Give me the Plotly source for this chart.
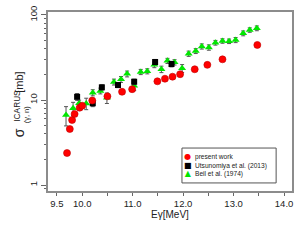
import plotly.graph_objects as go

# present work
pw_E = [9.70, 9.755, 9.80, 9.85, 9.95, 10.0, 10.20, 10.50, 10.79, 10.99,
        11.49, 11.64, 11.79, 11.94, 12.23, 12.48, 12.78, 13.47]
pw_sig = [2.38, 4.56, 5.82, 6.85, 8.12, 8.57, 9.86, 11.06, 12.5, 13.4,
          16.6, 17.8, 18.8, 20.1, 23.0, 25.9, 30.1, 44.4]

# Utsunomiya et al. (2013)
ut_E = [9.90, 10.21, 10.39, 10.71, 11.03, 11.445, 11.77]
ut_sig = [10.9, 9.15, 14.1, 15.0, 16.4, 28.0, 26.5]
ut_err = [1.0, 0.8, 1.0, 1.0, 1.2, 2.0, 2.0]

# Beil et al. (1974)
be_E = [9.68, 9.82, 9.94, 10.08, 10.21, 10.36, 10.49, 10.63, 10.77, 10.89,
        11.03, 11.16, 11.29, 11.43, 11.57, 11.69, 11.83, 11.98, 12.11, 12.25,
        12.37, 12.51, 12.64, 12.78, 12.91, 13.04, 13.19, 13.32, 13.46]
be_sig = [6.66, 7.99, 9.15, 9.10, 12.2, 12.8, 10.6, 16.3, 17.5, 20.3,
          14.7, 21.4, 21.8, 26.0, 23.0, 28.9, 27.8, 23.6, 35.1, 37.7,
          42.7, 41.5, 47.2, 49.5, 49.1, 50.8, 60.9, 66.6, 69.8]
be_err = [1.7, 1.4, 0.8, 1.4, 1.0, 1.0, 1.5, 1.3, 1.4, 1.6,
          1.8, 1.5, 1.5, 2.0, 2.0, 2.0, 2.0, 2.5, 2.5, 2.5,
          3.0, 3.0, 3.0, 3.0, 3.0, 3.5, 4.0, 4.0, 4.5]

x_tickvals = [9.5, 10.0, 11.0, 12.0, 13.0, 14.0]
x_ticktext = ["9.5", "10.0", "11.0", "12.0", "13.0", "14.0"]
x_minorvals = [10.5, 11.5, 12.5, 13.5]
y_tickvals = [1, 10, 100]
y_ticktext = ["1", "10", "100"]

legend_labels = ["present work", "Utsunomiya et al. (2013)", "Beil et al. (1974)"]

RED = "#ff0000"
GREEN = "#00e600"
ERRC = "#555555"

fig = go.Figure()
fig.add_trace(go.Scatter(
    x=be_E, y=be_sig, mode="markers", name=legend_labels[2],
    marker=dict(symbol="triangle-up", size=7, color=GREEN, line=dict(width=0)),
    error_y=dict(type="data", array=be_err, color=ERRC, thickness=1, width=2),
))
fig.add_trace(go.Scatter(
    x=ut_E, y=ut_sig, mode="markers", name=legend_labels[1],
    marker=dict(symbol="square", size=6, color="#000000", line=dict(width=0)),
    error_y=dict(type="data", array=ut_err, color=ERRC, thickness=1, width=2),
))
fig.add_trace(go.Scatter(
    x=pw_E, y=pw_sig, mode="markers", name=legend_labels[0],
    marker=dict(symbol="circle", size=7, color=RED, line=dict(width=0.6, color="#c00000")),
))

FONT = "Liberation Sans, Arial, sans-serif"
AXC = "#8c8c8c"
TXT = "#222222"

fig.update_layout(
    width=300, height=240,
    margin=dict(l=48, r=6, t=12, b=49),
    paper_bgcolor="white", plot_bgcolor="white",
    showlegend=False,
    font=dict(family=FONT, size=9, color=TXT),
    xaxis=dict(
        range=[9.323, 14.157], showgrid=False, zeroline=False,
        showline=True, linecolor=AXC, linewidth=1.5, mirror=True,
        tickmode="array", tickvals=x_tickvals, ticktext=x_ticktext,
        ticks="outside", ticklen=3, tickcolor="#666666", tickwidth=1,
        tickfont=dict(size=9.5, family=FONT, color=TXT),
        minor=dict(tickmode="array", tickvals=x_minorvals, ticks="outside",
                   ticklen=3, tickcolor="#666666"),
        title=dict(text="Eγ[MeV]", font=dict(size=10, family=FONT, color=TXT), standoff=2),
    ),
    yaxis=dict(
        type="log", range=[-0.07, 2.035], showgrid=False, zeroline=False,
        showline=True, linecolor=AXC, linewidth=1.5, mirror=True,
        tickmode="array", tickvals=y_tickvals, ticktext=y_ticktext,
        tickangle=-90,
        ticks="outside", ticklen=5, tickcolor="#666666", tickwidth=1,
        tickfont=dict(size=9.5, family=FONT, color=TXT),
        minor=dict(ticks="outside", ticklen=2, tickcolor="#666666", dtick="D1"),
    ),
)

# y-axis title (stacked sub/superscript)
ann = [
    dict(text="σ", x=-0.118, y=0.324, font=dict(size=14, family=FONT, color=TXT)),
    dict(text="ICARUS", x=-0.126, y=0.478, font=dict(size=8.3, family=FONT, color=TXT)),
    dict(text="(γ, n)", x=-0.087, y=0.427, font=dict(size=7.5, family=FONT, color=TXT)),
    dict(text="[mb]", x=-0.122, y=0.606, font=dict(size=11, family=FONT, color=TXT)),
]
for a in ann:
    fig.add_annotation(xref="paper", yref="paper", showarrow=False, textangle=-90,
                       xanchor="center", yanchor="middle", borderpad=0, **a)

# compact legend box
fig.add_shape(type="rect", xref="paper", yref="paper",
              x0=0.549, x1=0.935, y0=0.045, y1=0.240,
              line=dict(color="#555555", width=1), fillcolor="white", layer="above")
glyph_list = [("●", RED), ("■", "#000000"), ("▲", GREEN)]
glyph_text = "<br>".join(
    f"<span style='color:{c};font-size:8px'>{g}</span>" for g, c in glyph_list)
fig.add_annotation(xref="paper", yref="paper", showarrow=False, x=0.573, y=0.1425,
                   xanchor="center", yanchor="middle", text=glyph_text, borderpad=0,
                   font=dict(size=6.6, family="DejaVu Sans", color=TXT))
fig.add_annotation(xref="paper", yref="paper", showarrow=False, x=0.600, y=0.1425,
                   xanchor="left", yanchor="middle", align="left", borderpad=0,
                   text="<br>".join(legend_labels),
                   font=dict(size=6.6, family=FONT, color=TXT))

fig.write_html("out.html", config={"displayModeBar": False},
               post_script="document.body.style.margin='0';")
